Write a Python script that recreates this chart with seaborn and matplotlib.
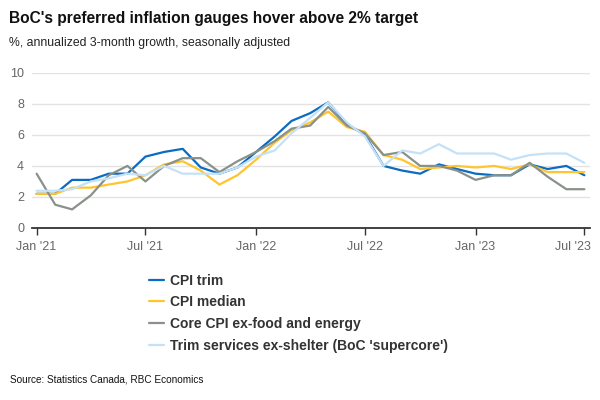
import pandas as pd
import numpy as np
import matplotlib
matplotlib.use("Agg")
import matplotlib.pyplot as plt
import matplotlib.dates as mdates
import matplotlib.transforms as mtransforms
import seaborn as sns

# monthly, Jan 2021 .. Jul 2023
months = pd.date_range("2021-01-01", "2023-07-01", freq="MS")

cpi_trim = [2.2, 2.2, 3.1, 3.1, 3.5, 3.5, 4.6, 4.9, 5.1, 3.9, 3.5, 3.9,
            4.9, 5.9, 6.9, 7.4, 8.1, 6.7, 6.0, 4.0, 3.7, 3.5, 4.1, 3.8,
            3.5, 3.4, 3.4, 4.1, 3.8, 4.0, 3.4]
cpi_median = [2.2, 2.2, 2.6, 2.6, 2.8, 3.0, 3.4, 4.1, 4.3, 3.7, 2.8, 3.4,
              4.4, 5.5, 6.3, 6.8, 7.5, 6.5, 6.2, 4.7, 4.4, 3.8, 3.9, 4.0,
              3.9, 4.0, 3.8, 4.1, 3.6, 3.6, 3.6]
core_cpi = [3.5, 1.5, 1.2, 2.1, 3.4, 4.0, 3.0, 4.0, 4.5, 4.5, 3.6, 4.3,
            4.9, 5.6, 6.4, 6.6, 7.8, 6.6, 6.1, 4.7, 4.9, 4.0, 4.0, 3.7,
            3.1, 3.4, 3.4, 4.2, 3.3, 2.5, 2.5]
supercore = [2.4, 2.4, 2.5, 3.0, 3.2, 3.5, 3.4, 4.0, 3.5, 3.5, 3.5, 3.9,
             4.6, 5.0, 6.1, 7.1, 8.1, 6.8, 5.9, 4.0, 5.0, 4.8, 5.4, 4.8,
             4.8, 4.8, 4.4, 4.7, 4.8, 4.8, 4.2]

labels = ["CPI trim", "CPI median", "Core CPI ex-food and energy",
          "Trim services ex-shelter (BoC 'supercore')"]
colors = ["#0a6bc2", "#ffc52e", "#8a908a", "#c4e1f8"]

df = pd.DataFrame({"date": np.tile(months, 4),
                   "value": cpi_trim + cpi_median + core_cpi + supercore,
                   "series": np.repeat(labels, len(months))})

sns.set_theme(style="white")
plt.rcParams["font.family"] = ["Liberation Sans", "DejaVu Sans"]

fig = plt.figure(figsize=(6, 4), dpi=100)
ax = fig.add_axes([0.053, 0.43, 0.93, 0.388])

sns.lineplot(data=df, x="date", y="value", hue="series", hue_order=labels,
             palette=colors, linewidth=1.6, ax=ax)

ax.set_ylim(0, 10)
ax.set_yticks([0, 2, 4, 6, 8, 10])
ax.set_xlim(pd.Timestamp("2020-12-24"), pd.Timestamp("2023-07-10"))
ax.xaxis.set_major_locator(mdates.MonthLocator(bymonth=[1, 7]))
ax.xaxis.set_major_formatter(mdates.DateFormatter("%b '%y"))
ax.set_xlabel("")
ax.set_ylabel("")
ax.grid(axis="y", color="#e3e3e3", linewidth=1)
for s in ["top", "right", "left"]:
    ax.spines[s].set_visible(False)
ax.spines["bottom"].set_color("#333333")
ax.spines["bottom"].set_linewidth(1.3)
ax.tick_params(axis="x", bottom=True, length=5, width=1, color="#333333",
               labelsize=9, labelcolor="#666666", pad=4)
ax.tick_params(axis="y", left=False, length=0, labelsize=9,
               labelcolor="#666666", pad=5.5)

# keep the last date label inside the figure
fig.canvas.draw()
last = ax.get_xticklabels()[-1]
last.set_horizontalalignment("right")
last.set_transform(last.get_transform() +
                   mtransforms.ScaledTranslation(6 / 100, 0, fig.dpi_scale_trans))

ax.legend(loc="upper left", bbox_to_anchor=(0.248, 0.316),
          bbox_transform=fig.transFigure, frameon=False,
          prop={"weight": "bold", "size": 10}, labelcolor="#333333",
          handlelength=1.1, handletextpad=0.45, labelspacing=0.55,
          borderpad=0, borderaxespad=0)

fig.text(0.015, 0.955, "BoC's preferred inflation gauges hover above 2% target",
         fontsize=11.2, fontweight="bold", color="#111111", va="center")
fig.text(0.015, 0.893, "%, annualized 3-month growth, seasonally adjusted",
         fontsize=8.8, color="#222222", va="center")
fig.text(0.017, 0.05, "Source: Statistics Canada, RBC Economics",
         fontsize=7.2, color="#111111", va="center")

fig.savefig("out.png", dpi=100)
